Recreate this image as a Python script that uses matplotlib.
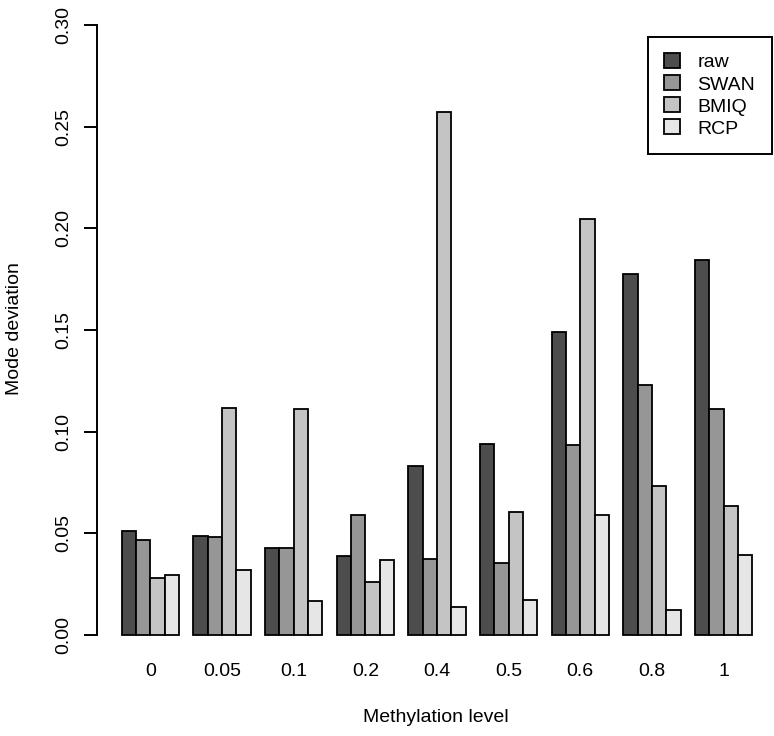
# methylation_barplot.py
# Mode deviation per methylation level, 4 normalisation methods (R barplot look)

import matplotlib
matplotlib.use("Agg")
import matplotlib.pyplot as plt
from matplotlib.patches import Patch
import numpy as np

# ── data ──────────────────────────────────────────────────
levels = ["0", "0.05", "0.1", "0.2", "0.4", "0.5", "0.6", "0.8", "1"]
methods = ["raw", "SWAN", "BMIQ", "RCP"]

raw = [0.0510, 0.0487, 0.0425, 0.0388, 0.0832, 0.0940, 0.1492, 0.1777, 0.1845]
swan = [0.0464, 0.0479, 0.0425, 0.0590, 0.0372, 0.0352, 0.0933, 0.1229, 0.1109]
bmiq = [0.0277, 0.1116, 0.1109, 0.0257, 0.2574, 0.0602, 0.2045, 0.0732, 0.0633]
rcp = [0.0295, 0.0318, 0.0165, 0.0367, 0.0137, 0.0171, 0.0587, 0.0122, 0.0390]

series = [raw, swan, bmiq, rcp]
colors = ["#4D4D4D", "#969696", "#C4C4C4", "#E6E6E6"]

plt.rcParams["font.family"] = ["Liberation Sans", "DejaVu Sans"]
FS = 14

W, H = 774, 736
fig = plt.figure(figsize=(W / 100, H / 100), dpi=100)

# plot region in pixels (R style: 4% padding on each side)
left_px, right_px = 96.5, 774
top_px, bottom_px = 1.1, 658.9
ax = fig.add_axes([left_px / W, 1 - bottom_px / H,
                   (right_px - left_px) / W, (bottom_px - top_px) / H])

# beside=TRUE layout: each group 4 bars wide, 1 unit gap before each group
n_groups = len(levels)
n_bars = len(methods)
group_starts = np.arange(n_groups) * (n_bars + 1) + 1
for i, (vals, col) in enumerate(zip(series, colors)):
    ax.bar(group_starts + i, vals, width=1.0, align="edge",
           color=col, edgecolor="black", linewidth=1.3, label=methods[i])

centers = group_starts + n_bars / 2
ax.set_xlim(-0.76, -0.76 + (right_px - left_px) / 14.33)
ax.set_ylim(-0.012, 0.312)

for s in ["top", "right", "bottom"]:
    ax.spines[s].set_visible(False)
ax.spines["left"].set_bounds(0, 0.30)
ax.spines["left"].set_linewidth(1.4)

ax.set_yticks(np.arange(0, 0.31, 0.05))
ax.set_yticklabels([f"{v:.2f}" for v in np.arange(0, 0.31, 0.05)],
                   rotation=90, va="center")
ax.tick_params(axis="y", length=9.5, width=1.4, labelsize=FS, pad=8)

ax.set_xticks(centers)
ax.set_xticklabels(levels)
ax.tick_params(axis="x", length=0, labelsize=FS, pad=3)

fig.text(436 / W, 1 - 718 / H, "Methylation level", ha="center", va="center",
         fontsize=FS)
fig.text(15 / W, 1 - 329 / H, "Mode deviation", ha="center", va="center",
         rotation=90, fontsize=FS)

handles = [Patch(facecolor=c, edgecolor="black", linewidth=1.3) for c in colors]
leg = ax.legend(handles, methods, loc="upper left",
                bbox_to_anchor=(647.7 / W, 1 - 36.7 / H),
                bbox_transform=fig.transFigure,
                fontsize=FS, frameon=True, fancybox=False, framealpha=1,
                edgecolor="black", borderpad=0.85, labelspacing=0.2,
                handlelength=0.8, handleheight=0.8, handletextpad=0.9,
                borderaxespad=0)
leg.get_frame().set_linewidth(1.4)

fig.savefig("out.png", dpi=100)
